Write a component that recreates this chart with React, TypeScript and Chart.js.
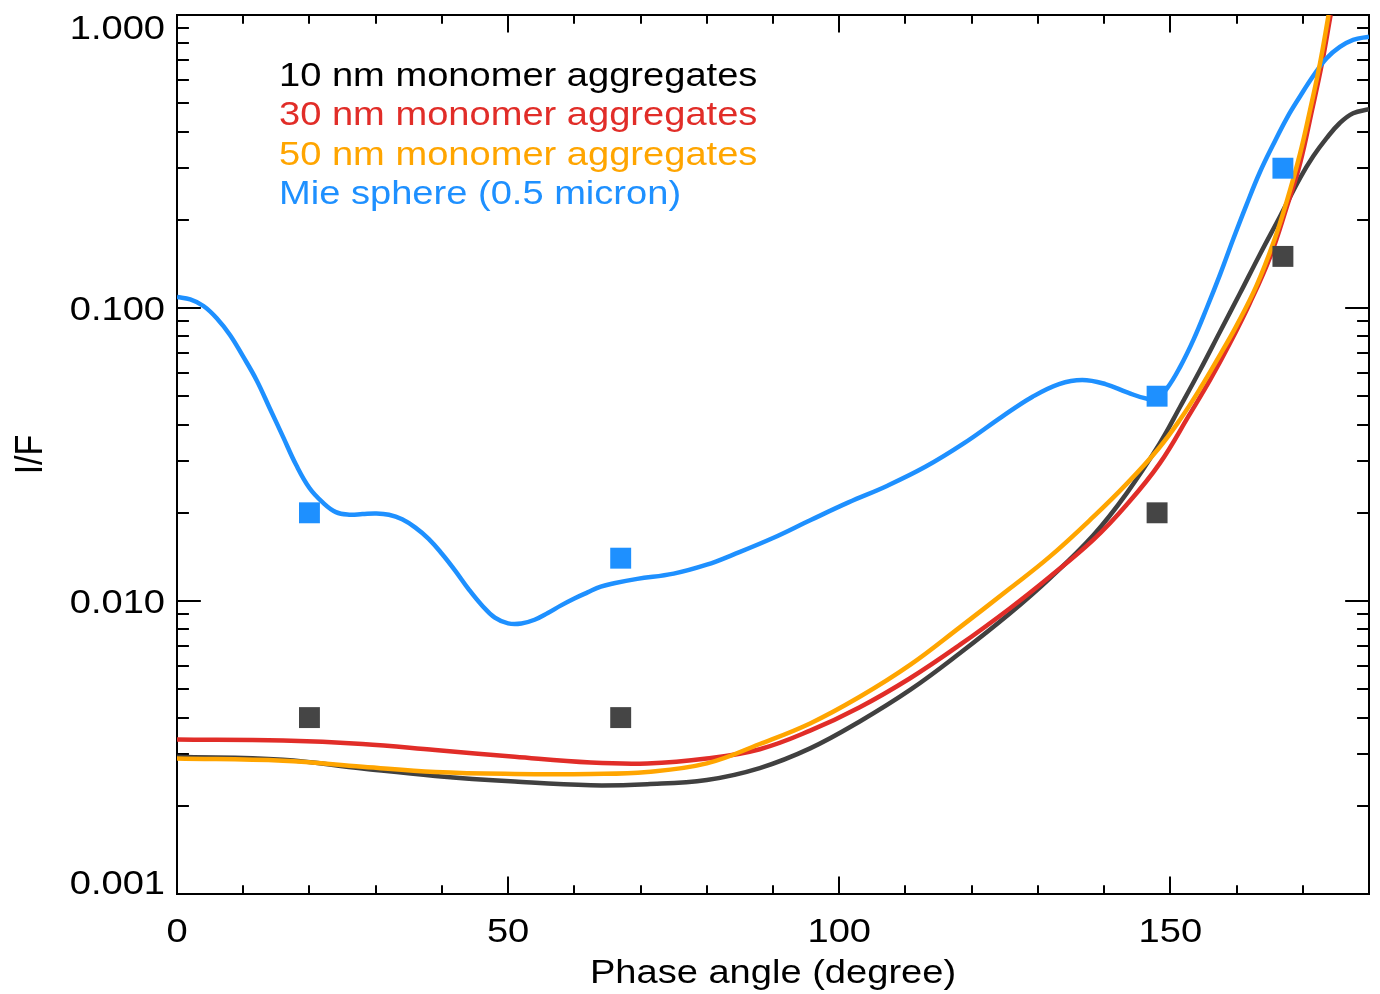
import React, { useEffect, useRef } from 'react';
import { Chart, registerables } from 'chart.js';

Chart.register(...registerables);

// ---------- data ----------
const mieAngles = [0, 2, 4, 6, 8, 10, 12, 14, 16, 18, 20, 22, 24, 26, 28, 30, 32, 34, 36, 38, 40, 42, 44, 46, 48, 50, 52, 54, 56, 58, 60, 62, 64, 66,
  69.5, 75, 80, 84, 90, 95.7, 101.4, 107.2, 113, 118.8, 124.6, 129.2, 133.2, 136.7, 140.2, 143.6, 146.5, 148,
  149.5, 151.5, 153.5, 155.5, 157.5, 159.5, 161.5, 163.5, 165.5, 167.6, 169.6, 171.6, 173.6, 175.6, 177.6, 180];
const mieValues = [0.109, 0.107, 0.1016, 0.0923, 0.0809, 0.0682, 0.0568, 0.0455, 0.0364, 0.0291,
  0.0243, 0.0217, 0.0201, 0.0197, 0.0198, 0.0199, 0.0197, 0.019, 0.0178, 0.0163,
  0.0145, 0.0127, 0.011, 0.00969, 0.00877, 0.00839, 0.00838, 0.00863, 0.0091, 0.00966,
  0.0102, 0.0107, 0.0112, 0.0115,
  0.0119, 0.0124, 0.0133, 0.0144, 0.0164, 0.0189, 0.0217, 0.0247, 0.0287, 0.0345, 0.0426,
  0.0498, 0.055, 0.0568, 0.055, 0.0514, 0.049, 0.0495,
  0.0532, 0.0631, 0.078, 0.1, 0.13, 0.172, 0.225, 0.29, 0.36, 0.445, 0.528, 0.62, 0.712, 0.778, 0.823, 0.843];

const nm10Angles = [0, 16, 28, 39, 51, 62.5, 71, 80, 88, 95.6, 103.1, 110.7, 118.2, 125.8, 131.8, 138.4, 143.4, 148.4,
  151.5, 154.5, 157.5, 160.5, 163.5, 166.6, 169.6, 171.6, 173.6, 175.6, 177.6, 180];
const nm10Values = [0.00294, 0.00287, 0.00268, 0.00253, 0.00242, 0.00235, 0.00237, 0.00245, 0.00269, 0.00314,
  0.00388, 0.00497, 0.00663, 0.00908, 0.01195, 0.0168, 0.0233, 0.0345, 0.0461, 0.0614,
  0.083, 0.112, 0.152, 0.206, 0.278, 0.33, 0.38, 0.428, 0.462, 0.477];

const nm30Angles = [0, 16, 28, 39, 51, 62.5, 71, 80, 88, 95.6, 103.1, 110.7, 118.2, 125.8, 131.8, 138.4, 143.4, 148.4,
  153, 156, 159, 162, 165.1, 167.6, 169.6, 171.4, 172.9, 174.2];
const nm30Values = [0.00337, 0.00334, 0.00325, 0.0031, 0.00294, 0.00281, 0.00279, 0.0029, 0.00312, 0.00361,
  0.00434, 0.00545, 0.00708, 0.00945, 0.0121, 0.0162, 0.0213, 0.0295, 0.0437, 0.0568,
  0.0758, 0.1038, 0.15, 0.222, 0.312, 0.474, 0.684, 1.0];

const nm50Angles = [0, 16, 28, 39, 51, 62.5, 71, 80, 88, 95.6, 103.1, 110.7, 118.2, 125.8, 131.8, 138.4, 143.4, 148.2,
  151.5, 154.5, 157.5, 160, 163, 165.6, 167.6, 169.6, 171.1, 172.6, 173.9];
const nm50Values = [0.0029, 0.00285, 0.00272, 0.00261, 0.00257, 0.00257, 0.00261, 0.00279, 0.00325, 0.00382,
  0.00471, 0.00605, 0.00813, 0.01105, 0.01417, 0.0194, 0.0251, 0.0331, 0.0417, 0.0531,
  0.0692, 0.0871, 0.119, 0.168, 0.232, 0.337, 0.474, 0.684, 1.0];

const obsAngles = [20, 67, 148, 167];
const obsBlueValues = [0.02, 0.014, 0.05, 0.3];
const obsGrayValues = [0.004, 0.004, 0.02, 0.15];

const xMajorTicks = [0, 50, 100, 150];
const xTickLabels = ['0', '50', '100', '150'];
const yMajorTicks = [0.001, 0.01, 0.1, 1];
const yTickLabels = ['0.001', '0.010', '0.100', '1.000'];
const xTitle = 'Phase angle (degree)';
const yTitle = 'I/F';
const legendLabels = ['10 nm monomer aggregates', '30 nm monomer aggregates', '50 nm monomer aggregates', 'Mie sphere (0.5 micron)'];

// ---------- styles ----------
const BLACK_LINE = '#404040';
const RED = '#E12D28';
const ORANGE = '#FFA500';
const BLUE = '#1E90FF';
const GRAY_SQ = '#454545';
const legendColors = ['#000000', RED, ORANGE, BLUE];
const FONT = '34px "Liberation Sans", Arial, Helvetica, sans-serif';
const SX = 1.12;

const pairs = (xs: number[], ys: number[]) => xs.map((x, i) => ({ x, y: ys[i] }));

function drawText(ctx: CanvasRenderingContext2D, text: string, x: number, y: number, align: CanvasTextAlign, color: string) {
  ctx.save();
  ctx.translate(x, y);
  ctx.scale(SX, 1);
  ctx.font = FONT;
  ctx.fillStyle = color;
  ctx.textAlign = align;
  ctx.textBaseline = 'alphabetic';
  ctx.fillText(text, 0, 0);
  ctx.restore();
}

const idlAxesPlugin = {
  id: 'idlAxes',
  beforeDatasetsDraw(chart: any) {
    const { ctx, chartArea: a, scales } = chart;
    const xs = scales.x;
    const ys = scales.y;
    ctx.save();
    ctx.strokeStyle = '#000';
    ctx.lineWidth = 2;
    ctx.strokeRect(a.left, a.top, a.right - a.left, a.bottom - a.top);
    const xLen = 0.02 * (a.bottom - a.top);
    const yLen = 0.02 * (a.right - a.left);
    ctx.beginPath();
    for (let v = 10; v < 180; v += 10) {
      const px = Math.round(xs.getPixelForValue(v));
      const len = xMajorTicks.includes(v) ? xLen : xLen / 2;
      ctx.moveTo(px, a.bottom);
      ctx.lineTo(px, a.bottom - len);
      ctx.moveTo(px, a.top);
      ctx.lineTo(px, a.top + len);
    }
    for (let d = 0; d < 3; d++) {
      const base = yMajorTicks[d];
      for (let m = 1; m <= 9; m++) {
        const v = base * m;
        if (d === 0 && m === 1) continue;
        const py = Math.round(ys.getPixelForValue(v));
        const len = m === 1 ? yLen : yLen / 2;
        ctx.moveTo(a.left, py);
        ctx.lineTo(a.left + len, py);
        ctx.moveTo(a.right, py);
        ctx.lineTo(a.right - len, py);
      }
    }
    ctx.stroke();
    ctx.restore();
  },
  afterDraw(chart: any) {
    const { ctx, chartArea: a, scales } = chart;
    const xs = scales.x;
    const ys = scales.y;
    yMajorTicks.forEach((v, i) => {
      const py = ys.getPixelForValue(v);
      const base = Math.min(Math.max(py + 12, a.top + 24), a.bottom);
      drawText(ctx, yTickLabels[i], a.left - 12, base, 'right', '#000');
    });
    xMajorTicks.forEach((v, i) => {
      drawText(ctx, xTickLabels[i], xs.getPixelForValue(v), a.bottom + 48, 'center', '#000');
    });
    drawText(ctx, xTitle, (a.left + a.right) / 2, a.bottom + 89, 'center', '#000');
    ctx.save();
    ctx.translate(42, (a.top + a.bottom) / 2);
    ctx.scale(SX, 1);
    ctx.rotate(-Math.PI / 2);
    ctx.font = FONT;
    ctx.fillStyle = '#000';
    ctx.textAlign = 'center';
    ctx.textBaseline = 'alphabetic';
    ctx.fillText(yTitle, 0, 0);
    ctx.restore();
    legendLabels.forEach((t, i) => {
      drawText(ctx, t, a.left + 102, a.top + 71 + i * 39.3, 'left', legendColors[i]);
    });
  },
};

export default function App() {
  const ref = useRef<HTMLCanvasElement | null>(null);
  useEffect(() => {
    if (!ref.current) return;
    const lineDs = (label: string, data: any[], color: string, order: number) => ({
      label,
      data,
      borderColor: color,
      backgroundColor: color,
      borderWidth: 4.5,
      pointRadius: 0,
      fill: false,
      tension: 0.4,
      clip: 0,
      order,
    });
    const sqDs = (label: string, data: any[], color: string) => ({
      label,
      data,
      showLine: false,
      pointStyle: 'rect' as const,
      pointRadius: 14.8,
      pointBorderWidth: 0,
      borderWidth: 0,
      backgroundColor: color,
      borderColor: color,
      pointBackgroundColor: color,
      clip: false,
      order: 0,
    });
    const chart = new Chart(ref.current, {
      type: 'line',
      data: {
        datasets: [
          sqDs('obs blue', pairs(obsAngles, obsBlueValues), BLUE),
          sqDs('obs gray', pairs(obsAngles, obsGrayValues), GRAY_SQ),
          lineDs(legendLabels[2], pairs(nm50Angles, nm50Values), ORANGE, 1),
          lineDs(legendLabels[3], pairs(mieAngles, mieValues), BLUE, 2),
          lineDs(legendLabels[1], pairs(nm30Angles, nm30Values), RED, 3),
          lineDs(legendLabels[0], pairs(nm10Angles, nm10Values), BLACK_LINE, 4),
        ] as any,
      },
      options: {
        animation: false,
        responsive: false,
        events: [],
        layout: { autoPadding: false, padding: { left: 177, top: 15, right: 11, bottom: 100 } },
        scales: {
          x: { type: 'linear', min: 0, max: 180, display: false },
          y: { type: 'logarithmic', min: 0.001, max: 1, display: false },
        },
        plugins: { legend: { display: false }, tooltip: { enabled: false } },
      },
      plugins: [idlAxesPlugin],
    });
    return () => chart.destroy();
  }, []);
  return (
    <div style={{ position: 'fixed', left: 0, top: 0, width: 1380, height: 994, background: '#fff' }}>
      <canvas ref={ref} width={1380} height={994} style={{ display: 'block' }} />
    </div>
  );
}
